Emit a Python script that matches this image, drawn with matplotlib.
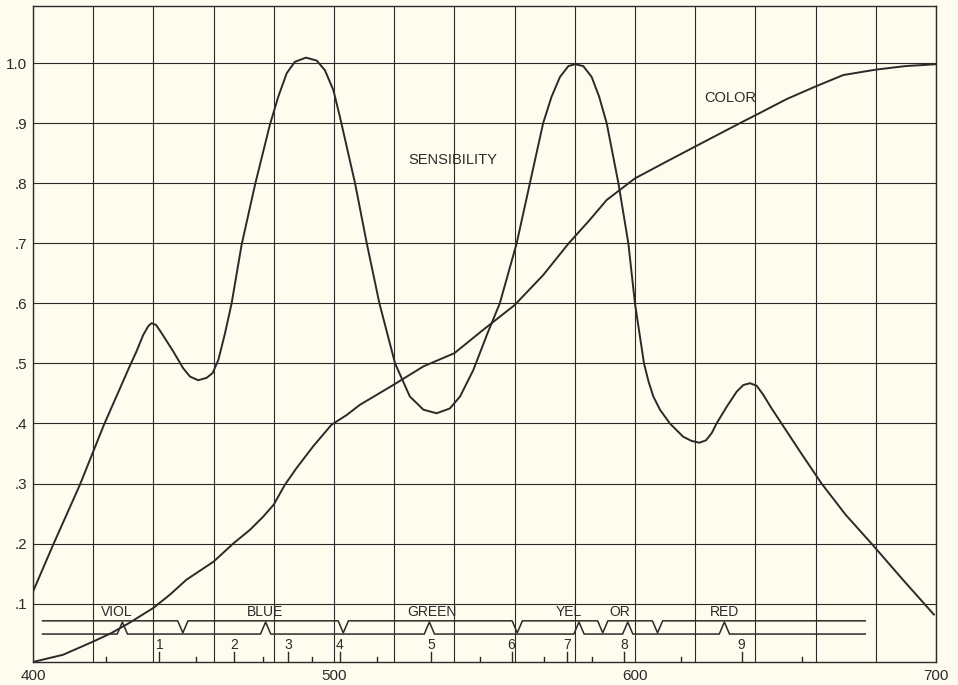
import matplotlib
matplotlib.use('Agg')
import matplotlib.pyplot as plt
from matplotlib.ticker import MultipleLocator

# sensibility curve (wave length nm, value)
sens_nm = [400, 406.7, 415.6, 423.6, 432.2, 434.4, 436.6, 438.3, 439.4, 440.9, 442.8, 446.6, 449.9,
           452.2, 454.9, 457.7, 459.7, 461.6, 463.8, 466, 469.3, 473.8, 478.7, 481.5, 484.3, 487,
           490.7, 494.3, 497, 499.8, 502, 507, 510.9, 515.1, 520.3, 525.2, 529.7, 534.1, 538.5,
           541.9, 546.3, 551, 555.1, 560.7, 565.1, 569.5, 572.3, 575.1, 577.9, 580.1, 582.8, 585.6,
           588.1, 590.6, 594.5, 597.8, 600, 603, 604.5, 606.1, 608.3, 611.6, 616, 618.8, 621.4,
           623.6, 625.5, 627.1, 630.5, 633.8, 636, 638.2, 640.4, 642.6, 645.4, 648.7, 655, 662,
           670, 678.6, 689, 699.3]
sens_val = [0.12, 0.198, 0.298, 0.398, 0.496, 0.52, 0.547, 0.562, 0.567, 0.564, 0.55, 0.52, 0.492,
            0.478, 0.472, 0.476, 0.484, 0.506, 0.55, 0.60, 0.697, 0.798, 0.897, 0.944, 0.983, 1.002,
            1.009, 1.004, 0.988, 0.955, 0.91, 0.80, 0.70, 0.60, 0.50, 0.445, 0.423, 0.417, 0.425,
            0.445, 0.489, 0.55, 0.60, 0.70, 0.80, 0.90, 0.944, 0.977, 0.995, 0.998, 0.995, 0.977,
            0.944, 0.90, 0.80, 0.70, 0.60, 0.50, 0.47, 0.445, 0.423, 0.40, 0.378, 0.371, 0.368,
            0.372, 0.384, 0.40, 0.428, 0.453, 0.464, 0.467, 0.463, 0.448, 0.425, 0.40, 0.352, 0.30,
            0.248, 0.20, 0.14, 0.082]

# color curve
color_nm = [400, 410, 420, 426, 432, 440, 445.5, 451, 460, 466.5, 472.1, 476.5, 480, 483.7, 487.6,
            493.1, 499.2, 504.2, 508.6, 520, 529.7, 540, 549.6, 560, 569.5, 578, 585, 590.6, 600,
            610.5, 620, 634.9, 640, 650.4, 660, 669.2, 680, 690, 700]
color_val = [0.003, 0.015, 0.037, 0.051, 0.068, 0.093, 0.115, 0.14, 0.17, 0.20, 0.223, 0.245, 0.265, 0.298, 0.326,
             0.362, 0.398, 0.414, 0.431, 0.465, 0.495, 0.517, 0.556, 0.597, 0.647, 0.70, 0.739, 0.772, 0.808,
             0.836, 0.861, 0.90, 0.913, 0.940, 0.961, 0.98, 0.989, 0.995, 0.998]

# spectrum band at the bottom
band_names = ['VIOL', 'BLUE', 'GREEN', 'YEL', 'OR', 'RED']
band_name_nm = [428, 477, 532.5, 578, 595, 629.6]
band_centres = [429.7, 477.3, 531.7, 581.4, 597.6, 629.7]
band_limits = [449.8, 503.1, 560.9, 589.3, 607.5]
band_start, band_end = 403.2, 676.5
numbers = ['1', '2', '3', '4', '5', '6', '7', '8', '9']
number_nm = [442, 466.9, 484.8, 502, 532.2, 559, 577.3, 596.3, 635.4]
short_ticks = [424.2, 454.2, 476.5, 492.6, 514.2, 548.5, 569.8, 585.6, 615.2, 655.6]

ytick_vals = [0.1, 0.2, 0.3, 0.4, 0.5, 0.6, 0.7, 0.8, 0.9, 1.0]
ytick_labels = ['.1', '.2', '.3', '.4', '.5', '.6', '.7', '.8', '.9', '1.0']
xtick_vals = [400, 500, 600, 700]

ink = '#2a2a2a'
paper = '#fdfcee'
plt.rcParams['font.family'] = ['Liberation Sans', 'DejaVu Sans']

fig = plt.figure(figsize=(9.58, 6.85), dpi=100, facecolor=paper)
ax = fig.add_axes([0.0344, 0.0336, 0.9426, 0.9577], facecolor=paper)
ax.set_xlim(400, 700)
ax.set_ylim(0.003, 1.095)

ax.set_xticks(xtick_vals)
ax.set_xticklabels([str(v) for v in xtick_vals])
ax.xaxis.set_minor_locator(MultipleLocator(20))
ax.set_yticks(ytick_vals)
ax.set_yticklabels(ytick_labels)
ax.tick_params(which='both', length=0, labelsize=11, colors=ink)
ax.tick_params(axis='x', pad=5)
ax.tick_params(axis='y', pad=4)
ax.grid(which='both', color=ink, linewidth=0.8)
ax.set_axisbelow(True)
for s in ax.spines.values():
    s.set_color(ink)
    s.set_linewidth(1.0)

ax.plot(sens_nm, sens_val, color=ink, linewidth=1.4, solid_joinstyle='round')
ax.plot(color_nm, color_val, color=ink, linewidth=1.4, solid_joinstyle='round')

ax.text(539.4, 0.839, 'SENSIBILITY', fontsize=10.5, color=ink, ha='center', va='center')
ax.text(631.7, 0.942, 'COLOR', fontsize=10.5, color=ink, ha='center', va='center')

# band: upper line with V at limits, lower line with peaks at centres
y_up, y_lo = 0.0715, 0.0495
hw = 1.7
ux, uy = [band_start], [y_up]
for c in band_limits:
    ux += [c - hw, c, c + hw]
    uy += [y_up, y_lo + 0.002, y_up]
ux.append(band_end)
uy.append(y_up)
ax.plot(ux, uy, color=ink, linewidth=1.1)
lx, ly = [band_start], [y_lo]
for c in band_centres:
    lx += [c - hw, c, c + hw]
    ly += [y_lo, y_up - 0.002, y_lo]
lx.append(band_end)
ly.append(y_lo)
ax.plot(lx, ly, color=ink, linewidth=1.1)

for name, x in zip(band_names, band_name_nm):
    ax.text(x, 0.087, name, fontsize=10, color=ink, ha='center', va='center')
for n, x in zip(numbers, number_nm):
    ax.text(x, 0.032, n, fontsize=10, color=ink, ha='center', va='center')
    ax.plot([x, x], [0.003, 0.020], color=ink, linewidth=1.0)
for x in short_ticks:
    ax.plot([x, x], [0.003, 0.012], color=ink, linewidth=1.0)

fig.savefig('out.png', dpi=100, facecolor=paper)
